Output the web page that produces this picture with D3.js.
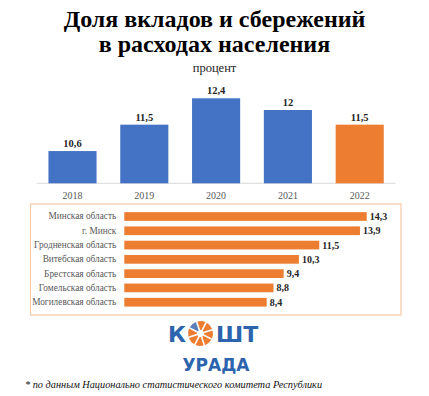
<!DOCTYPE html>
<html>
<head>
<meta charset="utf-8">
<script src="https://cdnjs.cloudflare.com/ajax/libs/d3/7.8.5/d3.min.js"></script>
</head>
<body style="margin:0">
<script>
// data
var years = ["2018", "2019", "2020", "2021", "2022"];
var yearValues = [10.6, 11.5, 12.4, 12, 11.5];
var regions = ["Минская область", "г. Минск", "Гродненская область", "Витебская область",
               "Брестская область", "Гомельская область", "Могилевская область"];
var regionValues = [14.3, 13.9, 11.5, 10.3, 9.4, 8.8, 8.4];

var W = 429, H = 396;
var serif = "Liberation Serif";
var sans = "DejaVu Sans";
var blue = "#4472c4", orange = "#ed7d31";

function fmt(v) { return String(v).replace(".", ","); }

var svg = d3.select("body").append("svg")
    .attr("width", W)
    .attr("height", H)
    .style("display", "block");

// title
svg.append("text").attr("x", 214.5).attr("y", 27)
    .attr("text-anchor", "middle")
    .style("font-family", serif).style("font-weight", "bold").style("font-size", "24px")
    .text("Доля вкладов и сбережений");
svg.append("text").attr("x", 214.5).attr("y", 52)
    .attr("text-anchor", "middle")
    .style("font-family", serif).style("font-weight", "bold").style("font-size", "24px")
    .text("в расходах населения");
svg.append("text").attr("x", 214.5).attr("y", 72)
    .attr("text-anchor", "middle")
    .style("font-family", serif).style("font-size", "12.5px").attr("fill", "#222")
    .text("процент");

// top column chart
var x = d3.scaleBand().domain(years).range([36.6, 395.6]).paddingInner(0.33).paddingOuter(0.165);
var y = d3.scaleLinear().domain([9.5, 13]).range([183.3, 80.7]);

svg.append("line")
    .attr("x1", 36.6).attr("x2", 395.6)
    .attr("y1", y(9.5)).attr("y2", y(9.5))
    .attr("stroke", "#d9d9d9").attr("stroke-width", 1);

svg.selectAll("rect.col").data(years).enter().append("rect")
    .attr("class", "col")
    .attr("x", function(d) { return x(d); })
    .attr("y", function(d, i) { return y(yearValues[i]); })
    .attr("width", x.bandwidth())
    .attr("height", function(d, i) { return y(9.5) - y(yearValues[i]); })
    .attr("fill", function(d, i) { return i === years.length - 1 ? orange : blue; });

svg.selectAll("text.colval").data(years).enter().append("text")
    .attr("class", "colval")
    .attr("x", function(d) { return x(d) + x.bandwidth() / 2; })
    .attr("y", function(d, i) { return y(yearValues[i]) - 4; })
    .attr("text-anchor", "middle")
    .style("font-family", serif).style("font-weight", "bold").style("font-size", "10.5px")
    .attr("fill", "#262626")
    .text(function(d, i) { return fmt(yearValues[i]); });

var xAxis = svg.append("g")
    .attr("transform", "translate(0," + y(9.5) + ")")
    .call(d3.axisBottom(x).tickSize(0).tickPadding(9));
xAxis.select(".domain").remove();
xAxis.selectAll("text")
    .style("font-family", serif).style("font-size", "10px").attr("fill", "#595959");

// bottom bar chart (regions)
svg.append("rect")
    .attr("x", 30.5).attr("y", 204)
    .attr("width", 370.5).attr("height", 111)
    .attr("fill", "none").attr("stroke", "#f7c9a6").attr("stroke-width", 1.2);

var by = d3.scaleBand().domain(regions).range([209.35, 309.35]).paddingInner(0.39).paddingOuter(0.195);
var bx = d3.scaleLinear().domain([0, 15]).range([124.3, 378.6]);

svg.selectAll("rect.bar").data(regions).enter().append("rect")
    .attr("class", "bar")
    .attr("x", bx(0))
    .attr("y", function(d) { return by(d); })
    .attr("width", function(d, i) { return bx(regionValues[i]) - bx(0); })
    .attr("height", by.bandwidth())
    .attr("fill", orange);

svg.selectAll("text.barval").data(regions).enter().append("text")
    .attr("class", "barval")
    .attr("x", function(d, i) { return bx(regionValues[i]) + 3; })
    .attr("y", function(d) { return by(d) + by.bandwidth() / 2; })
    .attr("dy", "0.35em")
    .style("font-family", serif).style("font-weight", "bold").style("font-size", "10px")
    .attr("fill", "#262626")
    .text(function(d, i) { return fmt(regionValues[i]); });

var yAxis = svg.append("g")
    .attr("transform", "translate(" + bx(0) + ",0)")
    .call(d3.axisLeft(by).tickSize(0).tickPadding(8));
yAxis.select(".domain").remove();
yAxis.selectAll("text")
    .style("font-family", serif).style("font-size", "9.3px").attr("fill", "#595959");

// logo
var logoBlue = "#2c64ad";
svg.append("text").attr("x", 168).attr("y", 342)
    .style("font-family", sans).style("font-weight", "bold").style("font-size", "22px")
    .attr("fill", logoBlue)
    .text("К");
svg.append("text").attr("x", 216).attr("y", 342)
    .style("font-family", sans).style("font-weight", "bold").style("font-size", "22px")
    .attr("fill", logoBlue)
    .text("ШТ");

var slices = [1, 1, 1, 1, 1, 1, 1, 1];
var pie = d3.pie().sort(null).startAngle(-Math.PI * 0.35).endAngle(Math.PI * 1.65).padAngle(0.12);
var arc = d3.arc().innerRadius(3.5).outerRadius(12.5);
svg.append("g").attr("transform", "translate(200.5,333.5)")
    .selectAll("path").data(pie(slices)).enter().append("path")
    .attr("d", arc)
    .attr("fill", function(d, i) { return i === 0 ? "#5b7fb8" : orange; });

svg.append("text").attr("x", 216).attr("y", 371)
    .attr("text-anchor", "middle")
    .style("font-family", sans).style("font-weight", "bold").style("font-size", "17px")
    .attr("fill", logoBlue)
    .text("УРАДА");

// footnote
svg.append("text").attr("x", 25).attr("y", 388)
    .style("font-family", serif).style("font-style", "italic").style("font-size", "10.3px")
    .attr("fill", "#111")
    .text("* по данным Национально статистического комитета Республики");
</script>
</body>
</html>
